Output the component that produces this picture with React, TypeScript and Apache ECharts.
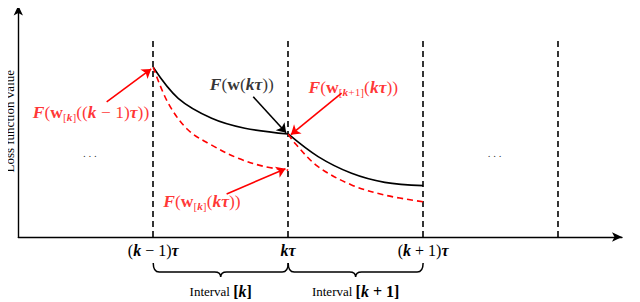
import React, { useEffect, useRef } from "react";
import * as echarts from "echarts";

const FONT = "Liberation Serif";
const RED = "#ff0000";

// axes extents (t in units of tau, loss in arbitrary units)
const X_MAX = 4.474;
const Y_MAX = 10;

// vertical dashed boundaries and their height
const boundaryX = [1, 2, 3, 4];
const boundaryTop = 8.58;

// x tick labels at 0..4
const tickLabels = [
  "",
  "{rm|(}{it|k}{rm| − 1)}{it|τ}",
  "{it|kτ}",
  "{rm|(}{it|k}{rm| + 1)}{it|τ}",
  "",
];

// curves
const globalLossK = [[1.0, 7.33], [1.185, 5.99], [1.433, 5.13], [1.679, 4.7], [2.0, 4.45]];
const localLossK = [[1.0, 7.33], [1.111, 5.78], [1.259, 4.62], [1.433, 3.97], [1.63, 3.4], [1.827, 3.04], [2.0, 2.89]];
const globalLossK1 = [[2.0, 4.45], [2.222, 3.47], [2.47, 2.75], [2.716, 2.36], [3.0, 2.22]];
const localLossK1 = [[2.0, 4.45], [2.05, 4.05], [2.222, 3.04], [2.47, 2.25], [2.716, 1.81], [3.0, 1.52]];

// intervals (braces)
const intervals = [[1, 2], [2, 3]];
const intervalLabels = [
  "{n|Interval }{br|[}{it|k}{br|]}",
  "{n|Interval }{br|[}{it|k}{br| + 1]}",
];

// ellipses
const dotsPos = [[0.531, 3.64], [3.53, 3.64]];

// annotation arrows
const arrowTails = [[0.655, 5.84], [1.741, 6.06], [2.396, 6.21], [1.544, 1.86]];
const arrowHeads = [[0.985, 7.26], [1.985, 4.5], [2.02, 4.42], [1.98, 2.95]];
const arrowColors = [RED, "#000", RED, RED];

// annotation texts
const annotPos = [[0.539, 5.41], [1.657, 6.6], [2.483, 6.5], [1.361, 1.55]];
const annotTexts = [
  "{it|F}{rm|(}{bw|w}{sub|[}{subit|k}{sub|]}{rm|((}{it|k}{rm| − 1)}{it|τ}{rm|))}",
  "{it|F}{rm|(}{bw|w}{rm|(}{it|kτ}{rm|))}",
  "{it|F}{rm|(}{bw|w}{sub|[}{subit|k}{sub|+1]}{rm|(}{it|kτ}{rm|))}",
  "{it|F}{rm|(}{bw|w}{sub|[}{subit|k}{sub|]}{rm|(}{it|kτ}{rm|))}",
];
const annotColors = [RED, "#000", RED, RED];

function mathRich(color: string, size = 16) {
  return {
    it: { fontFamily: FONT, fontStyle: "italic", fontWeight: "bold", fontSize: size, color },
    rm: { fontFamily: FONT, fontWeight: "normal", fontSize: size, color },
    bw: { fontFamily: FONT, fontWeight: "bold", fontSize: size, color },
    sub: { fontFamily: FONT, fontWeight: "normal", fontSize: size * 0.65, color, padding: [10, 0, 0, 0] },
    subit: { fontFamily: FONT, fontStyle: "italic", fontWeight: "bold", fontSize: size * 0.65, color, padding: [10, 0, 0, 0] },
  };
}

export default function App() {
  const ref = useRef<HTMLDivElement>(null);
  useEffect(() => {
    if (!ref.current) return;
    const chart = echarts.init(ref.current, null, { renderer: "svg" });
    const axisLine = { show: true, symbol: ["none", "arrow"], symbolSize: [7, 10], lineStyle: { color: "#000", width: 1.4 } };
    const option: any = {
      animation: false,
      backgroundColor: "#fff",
      textStyle: { fontFamily: FONT },
      grid: { left: 18.3, right: 18, top: 5.5, bottom: 65, containLabel: false, outerBoundsMode: "none" },
      xAxis: {
        type: "value",
        min: 0,
        max: X_MAX,
        interval: 1,
        axisLine,
        axisTick: { show: false },
        splitLine: { show: false },
        axisLabel: {
          margin: 5,
          showMinLabel: true,
          showMaxLabel: false,
          formatter: (v: number) => (Number.isInteger(v) ? tickLabels[v] || "" : ""),
          rich: mathRich("#000", 16),
        },
        name: "t",
        nameLocation: "end",
        nameGap: 14,
        nameTextStyle: { fontFamily: FONT, fontStyle: "italic", fontSize: 19, color: "#000", padding: [26, 0, 0, 0] },
      },
      yAxis: {
        type: "value",
        min: 0,
        max: Y_MAX,
        axisLine,
        axisTick: { show: false },
        axisLabel: { show: false },
        splitLine: { show: false },
        name: "Loss function value",
        nameLocation: "middle",
        nameRotate: 90,
        nameGap: 2,
        nameTextStyle: { fontFamily: FONT, fontSize: 13, color: "#000" },
      },
      series: [
        {
          type: "lines",
          coordinateSystem: "cartesian2d",
          silent: true,
          symbol: ["none", "none"],
          lineStyle: { color: "#000", width: 1.6, type: [6, 4], opacity: 1 },
          data: boundaryX.map((x) => ({ coords: [[x, 0], [x, boundaryTop]] })),
        },
        {
          type: "line", silent: true, showSymbol: false, symbol: "none", smooth: 0.35,
          lineStyle: { color: "#000", width: 1.6 }, data: globalLossK,
        },
        {
          type: "line", silent: true, showSymbol: false, symbol: "none", smooth: 0.35,
          lineStyle: { color: "#000", width: 1.6 }, data: globalLossK1,
        },
        {
          type: "line", silent: true, showSymbol: false, symbol: "none", smooth: 0.35,
          lineStyle: { color: RED, width: 1.6, type: [6, 4] }, data: localLossK,
        },
        {
          type: "line", silent: true, showSymbol: false, symbol: "none", smooth: 0.35,
          lineStyle: { color: RED, width: 1.6, type: [6, 4] }, data: localLossK1,
        },
        {
          type: "lines",
          coordinateSystem: "cartesian2d",
          silent: true,
          symbol: ["none", "arrow"],
          symbolSize: 9,
          lineStyle: { width: 1.6, opacity: 1 },
          data: arrowTails.map((t, i) => ({
            coords: [t, arrowHeads[i]],
            lineStyle: { color: arrowColors[i], width: 1.6, opacity: 1 },
          })),
        },
        {
          type: "scatter",
          silent: true,
          symbolSize: 1,
          itemStyle: { color: "rgba(0,0,0,0)" },
          label: { show: true, position: "inside" },
          data: annotPos.map((p, i) => ({
            value: p,
            label: {
              show: true,
              position: "inside",
              formatter: annotTexts[i],
              rich: mathRich(annotColors[i], 17.5),
            },
          })),
        },
        {
          type: "scatter",
          silent: true,
          symbolSize: 1,
          itemStyle: { color: "rgba(0,0,0,0)" },
          label: { show: true, position: "inside", formatter: ". . .", fontFamily: FONT, fontSize: 11, color: "#000" },
          data: dotsPos,
        },
        {
          type: "custom",
          silent: true,
          clip: false,
          encode: { x: [0, 1] },
          data: intervals,
          renderItem: (params: any, api: any) => {
            const a = api.coord([api.value(0), 0]);
            const b = api.coord([api.value(1), 0]);
            const x1 = a[0], x2 = b[0], xm = (x1 + x2) / 2;
            const y0 = a[1] + 26, y1 = a[1] + 35, y2 = a[1] + 40, r = 6;
            const d = `M${x1} ${y0} Q${x1} ${y1} ${x1 + r} ${y1} L${xm - r} ${y1} Q${xm} ${y1} ${xm} ${y2} Q${xm} ${y1} ${xm + r} ${y1} L${x2 - r} ${y1} Q${x2} ${y1} ${x2} ${y0}`;
            return {
              type: "group",
              children: [
                { type: "path", shape: { pathData: d }, style: { fill: "none", stroke: "#000", lineWidth: 1.5 } },
                {
                  type: "text",
                  x: xm,
                  y: a[1] + 54,
                  style: {
                    text: intervalLabels[params.dataIndex],
                    align: "center",
                    verticalAlign: "middle",
                    rich: {
                      n: { fontFamily: FONT, fontSize: 13, fill: "#000", color: "#000" },
                      br: { fontFamily: FONT, fontSize: 16, fontWeight: "bold", fill: "#000", color: "#000" },
                      it: { fontFamily: FONT, fontSize: 16, fontStyle: "italic", fontWeight: "bold", fill: "#000", color: "#000" },
                    },
                  },
                },
              ],
            };
          },
        },
      ],
    };
    chart.setOption(option);
    return () => chart.dispose();
  }, []);
  return <div ref={ref} style={{ width: 640, height: 302, marginLeft: -8, marginTop: -8 }} />;
}
